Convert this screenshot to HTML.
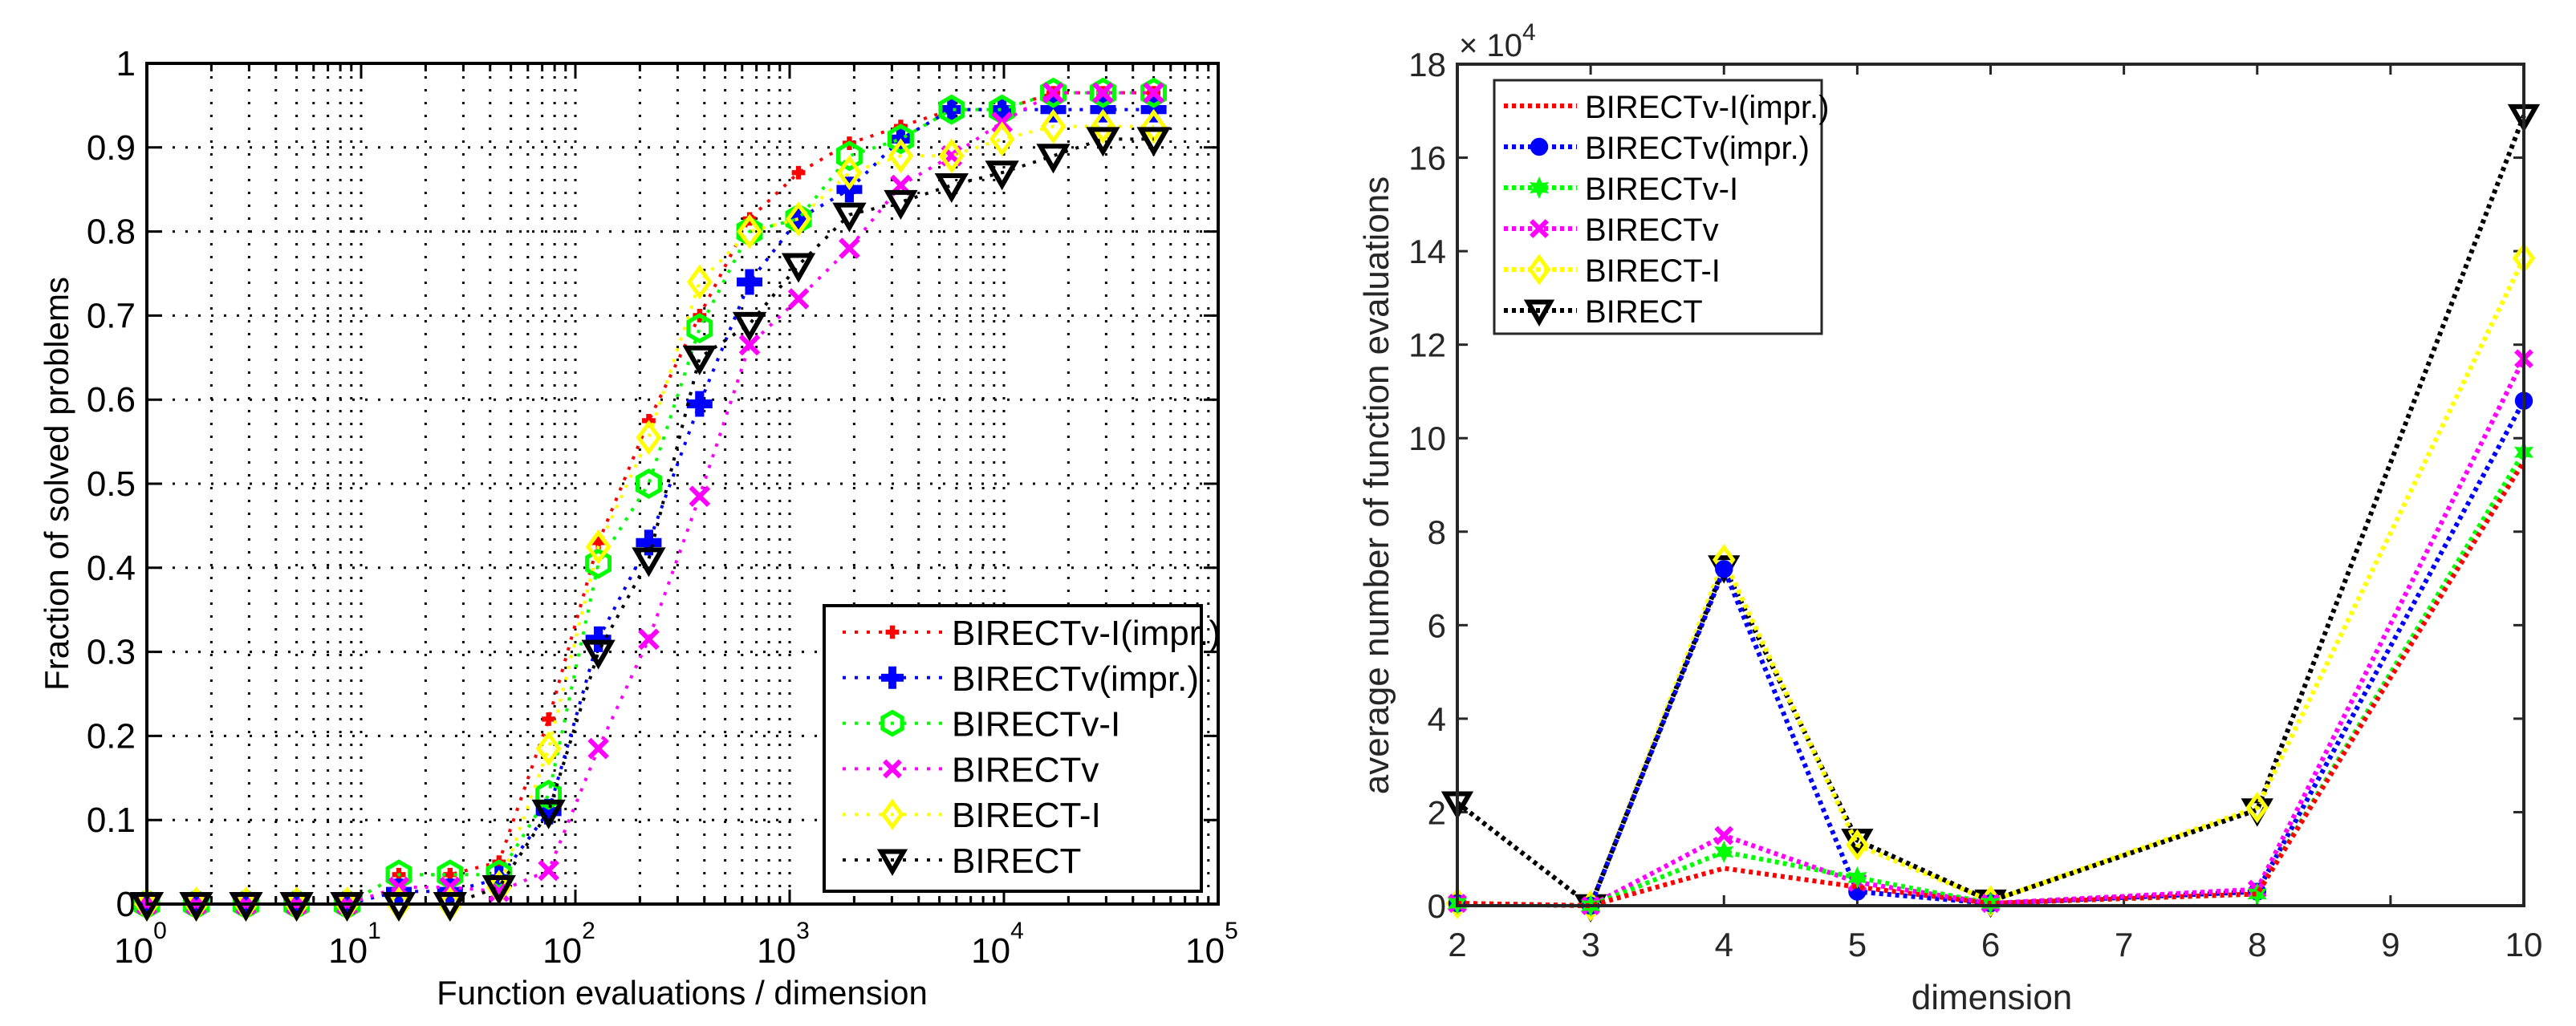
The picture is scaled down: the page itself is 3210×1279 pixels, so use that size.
<!DOCTYPE html>
<html><head><meta charset="utf-8"><style>
html,body{margin:0;padding:0;background:#fff;}
svg{display:block;}
text{font-family:"Liberation Sans",sans-serif;}
</style></head><body>
<svg id="fig" width="3210" height="1279" viewBox="0 0 3210 1279" xmlns="http://www.w3.org/2000/svg">
<g id="left"></g>
<g id="right"></g>
</svg>
<script>
// ---- Left chart data ----
const evals = [1,1.7,2.9,5,8.6,15,26,44,75,128,220,380,650,1100,1900,3300,5700,9800,17000,29000,50000];
const seriesNames = ["BIRECTv-I(impr.)","BIRECTv(impr.)","BIRECTv-I","BIRECTv","BIRECT-I","BIRECT"];
const fracRed = [0,0,0,0,0,0.035,0.035,0.05,0.22,0.43,0.575,0.70,0.815,0.87,0.905,0.925,0.945,0.945,0.965,0.965,0.965];
const fracBlue = [0,0,0,0,0,0.015,0.015,0.03,0.11,0.315,0.43,0.595,0.74,0.815,0.85,0.91,0.945,0.945,0.945,0.945,0.945];
const fracGreen = [0,0,0,0,0,0.035,0.035,0.035,0.13,0.405,0.50,0.685,0.80,0.815,0.89,0.91,0.945,0.945,0.965,0.965,0.965];
const fracMagenta = [0,0,0,0,0,0.02,0.02,0.015,0.04,0.185,0.315,0.485,0.665,0.72,0.78,0.855,0.89,0.93,0.965,0.965,0.965];
const fracYellow = [0,0,0,0,0,0,0,0.02,0.185,0.425,0.555,0.74,0.80,0.815,0.87,0.89,0.89,0.91,0.925,0.925,0.925];
const fracBlack = [0,0,0,0,0,0,0,0.02,0.11,0.30,0.41,0.65,0.69,0.76,0.82,0.835,0.855,0.87,0.89,0.91,0.91];
const yTicksLeft = [0,0.1,0.2,0.3,0.4,0.5,0.6,0.7,0.8,0.9,1];
const yTickLabelsLeft = ["0","0.1","0.2","0.3","0.4","0.5","0.6","0.7","0.8","0.9","1"];
const xDecades = [0,1,2,3,4,5];
// ---- Right chart data ----
const dims = [2,3,4,5,6,8,10];
const avgRed = [0.05,0,0.8,0.4,0.05,0.25,9.5];
const avgBlue = [0.05,0,7.2,0.3,0.05,0.3,10.8];
const avgGreen = [0.05,0,1.15,0.6,0.05,0.25,9.7];
const avgMagenta = [0.05,0,1.5,0.5,0.05,0.35,11.7];
const avgYellow = [0.05,0,7.4,1.3,0.1,2.1,13.85];
const avgBlack = [2.2,0,7.25,1.4,0.1,2.05,16.9];
const xTicksRight = [2,3,4,5,6,7,8,9,10];
const yTicksRight = [0,2,4,6,8,10,12,14,16,18];

const NS="http://www.w3.org/2000/svg";
function mk(parent,tag,attrs,text){const e=document.createElementNS(NS,tag);for(const k in attrs)e.setAttribute(k,attrs[k]);if(text!==undefined)e.textContent=text;parent.appendChild(e);return e;}
const colors=["#ff0000","#0000ff","#00ff00","#ff00ff","#ffff00","#000000"];
const markers=["plusSmall","plus","hex","x","diamond","tri"];

function marker(g,type,x,y,col,s){
  let e;
  if(type==="plusSmall"){e=mk(g,"path",{d:`M${x-s*0.6},${y}H${x+s*0.6}M${x},${y-s*0.6}V${y+s*0.6}`,stroke:col,"stroke-width":s*0.45,fill:"none"});}
  else if(type==="plus"){e=mk(g,"path",{d:`M${x-s},${y}H${x+s}M${x},${y-s}V${y+s}`,stroke:col,"stroke-width":s*0.7,fill:"none"});}
  else if(type==="hex"){const p=[];for(let i=0;i<6;i++){const a=Math.PI/3*i-Math.PI/2;p.push((x+s*Math.cos(a))+","+(y+s*Math.sin(a)));}
    const p2=[];for(let i=0;i<6;i++){const a=Math.PI/3*i+Math.PI/2;p2.push((x+s*Math.cos(a))+","+(y+s*Math.sin(a)));}
    e=mk(g,"g",{});mk(e,"polygon",{points:p.join(" "),fill:"none",stroke:col,"stroke-width":5});mk(e,"polygon",{points:p2.join(" "),fill:"none",stroke:col,"stroke-width":5});}
  else if(type==="x"){const d=s*0.7;e=mk(g,"path",{d:`M${x-d},${y-d}L${x+d},${y+d}M${x-d},${y+d}L${x+d},${y-d}`,stroke:col,"stroke-width":6,fill:"none"});}
  else if(type==="diamond"){e=mk(g,"polygon",{points:`${x},${y-s*1.1} ${x+s*0.8},${y} ${x},${y+s*1.1} ${x-s*0.8},${y}`,fill:"none",stroke:col,"stroke-width":5});}
  else if(type==="tri"){e=mk(g,"polygon",{points:`${x-s},${y-s*0.75} ${x+s},${y-s*0.75} ${x},${y+s}`,fill:"none",stroke:col,"stroke-width":6});}
  else if(type==="dot"){e=mk(g,"circle",{cx:x,cy:y,r:s*0.8,fill:col});}
  else if(type==="star"){const p=[];for(let i=0;i<12;i++){const r=i%2?s*0.5:s;const a=Math.PI/6*i-Math.PI/2;p.push((x+r*Math.cos(a))+","+(y+r*Math.sin(a)));}e=mk(g,"polygon",{points:p.join(" "),fill:col});}
  return e;
}

// ===== LEFT =====
(function(){
  const g=document.getElementById("left");
  const L=183,R=1518,T=79,B=1127;
  const xs=v=>L+(Math.log10(v))*(R-L)/5;
  const ys=v=>B-v*(B-T);
  const grid=mk(g,"g",{});
  
  
  for(let d=0;d<5;d++)for(let m=1;m<=9;m++){const v=Math.pow(10,d)*m;if(d===0&&m===1)continue;const x=xs(v);
    mk(grid,"line",{x1:x,y1:T,x2:x,y2:B,stroke:"#000","stroke-width":3,"stroke-dasharray":"3 13"});
    const tl=m===1?18:10;mk(grid,"line",{x1:x,y1:B,x2:x,y2:B-tl,stroke:"#000","stroke-width":3});mk(grid,"line",{x1:x,y1:T,x2:x,y2:T+tl,stroke:"#000","stroke-width":3});}
  yTicksLeft.forEach((v,i)=>{const y=ys(v);
    if(v>0&&v<1)mk(grid,"line",{x1:L,y1:y,x2:R,y2:y,stroke:"#000","stroke-width":3,"stroke-dasharray":"3 13"});
    mk(grid,"line",{x1:L,y1:y,x2:L+18,y2:y,stroke:"#000","stroke-width":3});mk(grid,"line",{x1:R,y1:y,x2:R-18,y2:y,stroke:"#000","stroke-width":3});
    const t=mk(g,"text",{x:L-14,y:y+15,"text-anchor":"end","font-size":44},yTickLabelsLeft[i]);
    
    
  });
  xDecades.forEach(d=>{const x=xs(Math.pow(10,d));
    const t=mk(g,"text",{x:x-8,y:1200,"text-anchor":"middle","font-size":44});
    
    
    mk(t,"tspan",{},"10");mk(t,"tspan",{dy:-30,"font-size":30},String(d));});
  const fr=[fracRed,fracBlue,fracGreen,fracMagenta,fracYellow,fracBlack];
  fr.forEach((arr,si)=>{const sg=mk(g,"g",{});
    
    
    mk(sg,"polyline",{points:arr.map((v,i)=>xs(evals[i])+","+ys(v)).join(" "),fill:"none",stroke:colors[si],"stroke-width":4,"stroke-dasharray":"4 10"});
    arr.forEach((v,i)=>{const m=marker(sg,markers[si],xs(evals[i]),ys(v),colors[si],si===0?14:16);
      
      });
  });
  mk(g,"rect",{x:L,y:T,width:R-L,height:B-T,fill:"none",stroke:"#000","stroke-width":4});
  const lg=mk(g,"g",{});
  
  
  mk(lg,"rect",{x:1027,y:755,width:470,height:356,fill:"#fff",stroke:"#000","stroke-width":4});
  seriesNames.forEach((n,i)=>{const y=788+i*56.8;const e=mk(lg,"g",{});
    
    
    mk(e,"line",{x1:1050,y1:y,x2:1177,y2:y,stroke:colors[i],"stroke-width":4,"stroke-dasharray":"4 11"});
    marker(e,markers[i],1112,y,colors[i],14);
    mk(e,"text",{x:1186,y:y+16,"font-size":44},n);});
  const yl=mk(g,"text",{x:0,y:0,transform:"translate(85,603) rotate(-90)","text-anchor":"middle","font-size":42},"Fraction of solved problems");
  
  
  const xl=mk(g,"text",{x:850,y:1252,"text-anchor":"middle","font-size":42},"Function evaluations / dimension");
  
  
})();

// ===== RIGHT =====
(function(){
  const g=document.getElementById("right");
  const L=1816,R=3145,T=80,B=1129;
  const xs=v=>L+(v-2)*(R-L)/8;
  const ys=v=>B-v*(B-T)/18;
  const C="#262626";
  xTicksRight.forEach(v=>{const x=xs(v);
    mk(g,"line",{x1:x,y1:B,x2:x,y2:B-13,stroke:C,"stroke-width":3});mk(g,"line",{x1:x,y1:T,x2:x,y2:T+13,stroke:C,"stroke-width":3});
    const t=mk(g,"text",{x:x,y:1192,"text-anchor":"middle","font-size":42,fill:C},String(v));
    
    });
  yTicksRight.forEach(v=>{const y=ys(v);
    mk(g,"line",{x1:L,y1:y,x2:L+13,y2:y,stroke:C,"stroke-width":3});mk(g,"line",{x1:R,y1:y,x2:R-13,y2:y,stroke:C,"stroke-width":3});
    const t=mk(g,"text",{x:L-14,y:y+15,"text-anchor":"end","font-size":42,fill:C},String(v));
    
    });
  const ex=mk(g,"text",{x:1818,y:70,"font-size":40,fill:C});
  
  
  mk(ex,"tspan",{},"\u00d7 10");mk(ex,"tspan",{dy:-20,"font-size":30},"4");
  const rm=["star6","dot","star","x","diamond","tri"];
  const av=[avgRed,avgBlue,avgGreen,avgMagenta,avgYellow,avgBlack];
  const drawOrder=[5,4,1,3,2,0];
  drawOrder.forEach(si=>{const arr=av[si];const sg=mk(g,"g",{});
    
    
    mk(sg,"polyline",{points:arr.map((v,i)=>xs(dims[i])+","+ys(v)).join(" "),fill:"none",stroke:colors[si],"stroke-width":6,"stroke-dasharray":"5 5"});
    arr.forEach((v,i)=>{if(si===0)return;const m=marker(sg,rm[si],xs(dims[i]),ys(v),colors[si],si===5?15:14);
      
      });
  });
  mk(g,"rect",{x:L,y:T,width:R-L,height:B-T,fill:"none",stroke:C,"stroke-width":4});
  const lg=mk(g,"g",{});
  
  
  mk(lg,"rect",{x:1862,y:100,width:408,height:316,fill:"#fff",stroke:C,"stroke-width":3});
  seriesNames.forEach((n,i)=>{const y=132+i*51;const e=mk(lg,"g",{});
    
    
    mk(e,"line",{x1:1874,y1:y,x2:1965,y2:y,stroke:colors[i],"stroke-width":6,"stroke-dasharray":"5 5"});
    if(i>0)marker(e,rm[i],1918,y,colors[i],14);
    mk(e,"text",{x:1975,y:y+15,"font-size":40,fill:"#000"},n);});
  const yl=mk(g,"text",{x:0,y:0,transform:"translate(1730,605) rotate(-90)","text-anchor":"middle","font-size":44,fill:C},"average number of function evaluations");
  
  
  const xl=mk(g,"text",{x:2482,y:1258,"text-anchor":"middle","font-size":44,fill:C},"dimension");
  
  
})();
</script>
</body></html>
